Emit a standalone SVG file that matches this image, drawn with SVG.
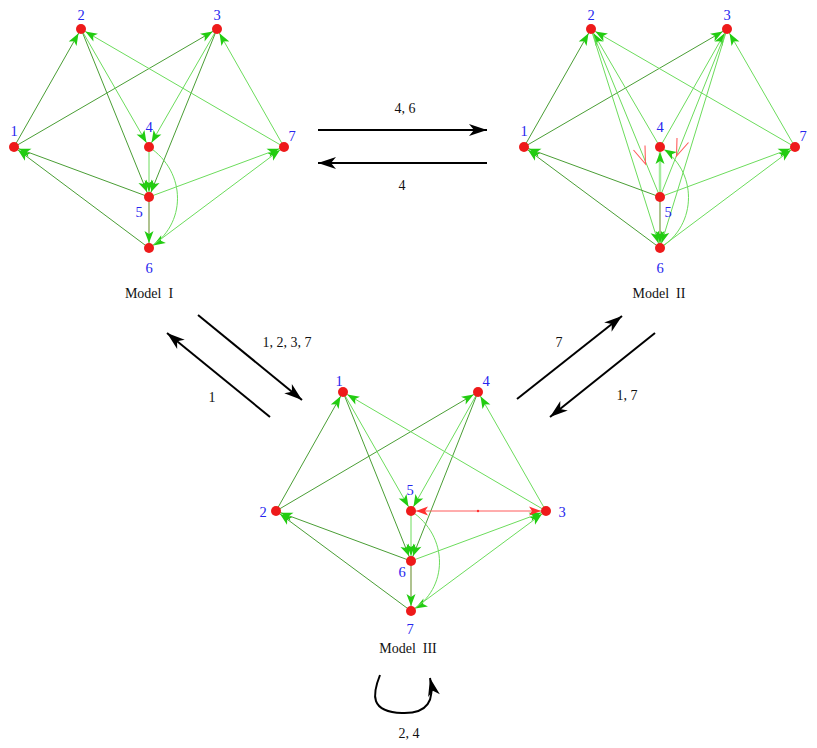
<svg xmlns="http://www.w3.org/2000/svg" width="817" height="748" viewBox="0 0 817 748">
<style>
.dk{stroke:#4a9e35;stroke-width:1;fill:none;marker-end:url(#ag)}
.lt{stroke:#6cdc5c;stroke-width:1;fill:none;marker-end:url(#ag)}
.br{stroke:#7a9a45;stroke-width:1.2;fill:none;marker-end:url(#ag)}
.pl{stroke:#6cdc5c;stroke-width:1;fill:none}
.th{stroke:#a6eca0;stroke-width:2.5;fill:none;marker-end:url(#ag)}
.rd{stroke:#ff5a5a;stroke-width:1;fill:none;marker-start:url(#ar);marker-end:url(#ar)}
.ch{stroke:#ff5c5c;stroke-width:1.1;fill:none}
.big{stroke:#000;stroke-width:2;fill:none;marker-end:url(#ab)}
.nd{fill:#ee1a1a}
.lb{font-family:"Liberation Serif",serif;font-size:14.5px;fill:#2626ee;text-anchor:middle}
.tx{font-family:"Liberation Serif",serif;font-size:14px;fill:#111;text-anchor:middle}
</style>
<defs>
<marker id="ag" markerUnits="userSpaceOnUse" markerWidth="20" markerHeight="12" refX="17" refY="4.5" orient="auto" overflow="visible"><path d="M0,0 L12,4.5 L0,9 L3,4.5 z" fill="#22cc11"/></marker>
<marker id="ar" markerUnits="userSpaceOnUse" markerWidth="20" markerHeight="12" refX="17" refY="4.5" orient="auto-start-reverse" overflow="visible"><path d="M0,0 L12,4.5 L0,9 L3,4.5 z" fill="#ff3030"/></marker>
<marker id="ab" markerUnits="userSpaceOnUse" markerWidth="24" markerHeight="14" refX="18" refY="6" orient="auto" overflow="visible"><path d="M0,0 L18,6 L0,12 L5,6 z" fill="#000"/></marker>
</defs>

<g id="connectors">
<!-- Model I -->
<line class="dk" x1="14" y1="147" x2="81" y2="29"/>
<line class="dk" x1="14" y1="147" x2="217" y2="29"/>
<line class="lt" x1="81" y1="29" x2="149" y2="147"/>
<line class="dk" x1="81" y1="29" x2="149" y2="197"/>
<line class="lt" x1="217" y1="29" x2="149" y2="147"/>
<line class="dk" x1="217" y1="29" x2="149" y2="197"/>
<line class="lt" x1="284" y1="147" x2="81" y2="29"/>
<line class="lt" x1="284" y1="147" x2="217" y2="29"/>
<line class="dk" x1="149" y1="197" x2="14" y2="147"/>
<line class="dk" x1="149" y1="248" x2="14" y2="147"/>
<line class="lt" x1="149" y1="147" x2="149" y2="197"/>
<line class="br" x1="149" y1="197" x2="149" y2="248"/>
<path class="lt" d="M149,147 C187,172 187,225 149,248"/>
<line class="lt" x1="149" y1="197" x2="284" y2="147"/>
<line class="lt" x1="149" y1="248" x2="284" y2="147"/>

<!-- Model II -->
<line class="dk" x1="524" y1="147" x2="591" y2="29"/>
<line class="dk" x1="524" y1="147" x2="727" y2="29"/>
<line class="lt" x1="795" y1="147" x2="591" y2="29"/>
<line class="lt" x1="795" y1="147" x2="727" y2="29"/>
<line class="lt" x1="660" y1="147" x2="591" y2="29"/>
<line class="lt" x1="660" y1="147" x2="727" y2="29"/>
<line class="lt" x1="591" y1="29" x2="660" y2="248"/>
<line class="lt" x1="727" y1="29" x2="660" y2="248"/>
<line class="pl" x1="591" y1="29" x2="660" y2="197"/>
<line class="pl" x1="727" y1="29" x2="660" y2="197"/>
<line class="dk" x1="660" y1="197" x2="524" y2="147"/>
<line class="dk" x1="660" y1="248" x2="524" y2="147"/>
<line class="lt" x1="660" y1="197" x2="795" y2="147"/>
<line class="lt" x1="660" y1="248" x2="795" y2="147"/>
<line class="th" x1="660" y1="197" x2="660" y2="147"/>
<line class="br" x1="660" y1="197" x2="660" y2="248"/>
<path class="lt" d="M660,248 C698,225 698,170 660,147"/>
<polyline class="ch" points="645,145.5 645.5,164 633.5,150"/>
<polyline class="ch" points="688.5,142.5 676.5,156 677,138"/>

<!-- Model III -->
<line class="dk" x1="276" y1="511" x2="343" y2="392"/>
<line class="dk" x1="276" y1="511" x2="478" y2="392"/>
<line class="lt" x1="343" y1="392" x2="411" y2="511"/>
<line class="dk" x1="343" y1="392" x2="411" y2="561"/>
<line class="lt" x1="478" y1="392" x2="411" y2="511"/>
<line class="dk" x1="478" y1="392" x2="411" y2="561"/>
<line class="lt" x1="546" y1="511" x2="343" y2="392"/>
<line class="lt" x1="546" y1="511" x2="478" y2="392"/>
<line class="dk" x1="411" y1="561" x2="276" y2="511"/>
<line class="dk" x1="411" y1="611" x2="276" y2="511"/>
<line class="lt" x1="411" y1="511" x2="411" y2="561"/>
<line class="br" x1="411" y1="561" x2="411" y2="611"/>
<path class="lt" d="M411,511 C449,536 449,589 411,611"/>
<line class="lt" x1="411" y1="561" x2="546" y2="511"/>
<line class="lt" x1="411" y1="611" x2="546" y2="511"/>
<line class="rd" x1="411" y1="511" x2="546" y2="511"/>
<circle cx="478" cy="511" r="1.2" fill="#ff3030"/>

<!-- transitions -->
<line class="big" x1="318" y1="130" x2="487" y2="130"/>
<line class="big" x1="487" y1="163" x2="318" y2="163"/>
<line class="big" x1="198" y1="315" x2="302" y2="400"/>
<line class="big" x1="270" y1="417" x2="167" y2="333"/>
<line class="big" x1="517" y1="399" x2="622" y2="316"/>
<line class="big" x1="655" y1="333" x2="550" y2="417"/>
<path class="big" d="M380,675 C372,695 370,712 402,713 C428,714 435,700 430,678"/>
</g>

<g id="transition-labels">
<text class="tx" x="405" y="113">4, 6</text>
<text class="tx" x="402" y="190">4</text>
<text class="tx" x="287" y="347">1, 2, 3, 7</text>
<text class="tx" x="212" y="402">1</text>
<text class="tx" x="559" y="347">7</text>
<text class="tx" x="627" y="400">1, 7</text>
<text class="tx" x="409" y="738">2, 4</text>
</g>

<g id="m1-title"><text class="tx" x="149" y="298" xml:space="preserve">Model  I</text></g>
<g id="m2-title"><text class="tx" x="659" y="298" xml:space="preserve">Model  II</text></g>
<g id="m3-title"><text class="tx" x="408" y="653" xml:space="preserve">Model  III</text></g>

<g id="m1-n1"><circle class="nd" cx="14" cy="147" r="5"/><text class="lb" x="14" y="136">1</text></g>
<g id="m1-n2"><circle class="nd" cx="81" cy="29" r="5"/><text class="lb" x="81" y="20">2</text></g>
<g id="m1-n3"><circle class="nd" cx="217" cy="29" r="5"/><text class="lb" x="217" y="20">3</text></g>
<g id="m1-n4"><circle class="nd" cx="149" cy="147" r="5"/><text class="lb" x="149" y="132">4</text></g>
<g id="m1-n5"><circle class="nd" cx="149" cy="197" r="5"/><text class="lb" x="139" y="217">5</text></g>
<g id="m1-n6"><circle class="nd" cx="149" cy="248" r="5"/><text class="lb" x="149" y="273">6</text></g>
<g id="m1-n7"><circle class="nd" cx="284" cy="147" r="5"/><text class="lb" x="292" y="141">7</text></g>

<g id="m2-n1"><circle class="nd" cx="524" cy="147" r="5"/><text class="lb" x="524" y="136">1</text></g>
<g id="m2-n2"><circle class="nd" cx="591" cy="29" r="5"/><text class="lb" x="591" y="20">2</text></g>
<g id="m2-n3"><circle class="nd" cx="727" cy="29" r="5"/><text class="lb" x="727" y="20">3</text></g>
<g id="m2-n4"><circle class="nd" cx="660" cy="147" r="5"/><text class="lb" x="660" y="132">4</text></g>
<g id="m2-n5"><circle class="nd" cx="660" cy="197" r="5"/><text class="lb" x="668" y="217">5</text></g>
<g id="m2-n6"><circle class="nd" cx="660" cy="248" r="5"/><text class="lb" x="660" y="273">6</text></g>
<g id="m2-n7"><circle class="nd" cx="795" cy="147" r="5"/><text class="lb" x="803" y="141">7</text></g>

<g id="m3-n1"><circle class="nd" cx="343" cy="392" r="5"/><text class="lb" x="339" y="386">1</text></g>
<g id="m3-n2"><circle class="nd" cx="276" cy="511" r="5"/><text class="lb" x="263" y="517">2</text></g>
<g id="m3-n3"><circle class="nd" cx="546" cy="511" r="5"/><text class="lb" x="562" y="517">3</text></g>
<g id="m3-n4"><circle class="nd" cx="478" cy="392" r="5"/><text class="lb" x="486" y="386">4</text></g>
<g id="m3-n5"><circle class="nd" cx="411" cy="511" r="5"/><text class="lb" x="410" y="495">5</text></g>
<g id="m3-n6"><circle class="nd" cx="411" cy="561" r="5"/><text class="lb" x="402" y="577">6</text></g>
<g id="m3-n7"><circle class="nd" cx="411" cy="611" r="5"/><text class="lb" x="410" y="634">7</text></g>
</svg>
